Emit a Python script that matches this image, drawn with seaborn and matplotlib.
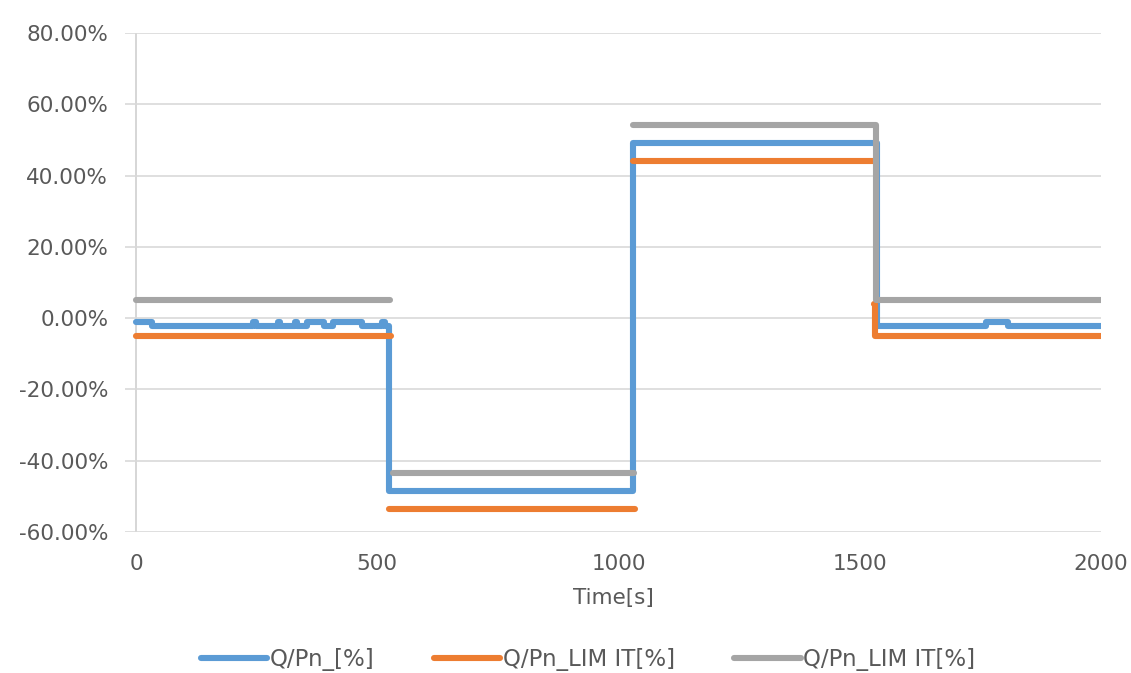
import numpy as np
import seaborn as sns
import matplotlib.pyplot as plt
from matplotlib.ticker import FuncFormatter

# ---------------------------------------- Data ---------------------------------------- #
# time [s] / value [%], NaN separates unconnected pieces
blue_t = [0, 32, 242, 248, 294, 299, 329, 334, 355, 390, 408, 468, 510, 516, 525, 1030,
          1535, 1762, 1808, 2000]
blue_v = [-1, -2.2, -1, -2.2, -1, -2.2, -1, -2.2, -1, -2.2, -1, -2.2, -1, -2.2, -48.5, 49,
          -2.3, -1, -2.3, -2.3]

orange_t = [0, 528, np.nan, 524, 1035, np.nan, 1029, 1530, np.nan, 1530, 1532, 2000]
orange_v = [-5, -5, np.nan, -53.5, -53.5, np.nan, 44, 44, np.nan, 4, -5, -5]

gray_t = [0, 526, np.nan, 532, 1031, np.nan, 1029, 1533, 2000]
gray_v = [5, 5, np.nan, -43.5, -43.5, np.nan, 54.3, 5, 5]

names = ["Q/Pn_[%]", "Q/Pn_LIM IT[%]", "Q/Pn_LIM IT[%]"]
colors = ["#5B9BD5", "#ED7D31", "#A5A5A5"]

x_ticks = [0, 500, 1000, 1500, 2000]
y_ticks = [-60, -40, -20, 0, 20, 40, 60, 80]

text_color = "#595959"


def pieces(t, v):
    # split a series at NaN gaps
    out, cur_t, cur_v = [], [], []
    for a, b in zip(t, v):
        if np.isnan(a):
            out.append((cur_t, cur_v))
            cur_t, cur_v = [], []
        else:
            cur_t.append(a)
            cur_v.append(b)
    out.append((cur_t, cur_v))
    return out


sns.set_style("white")
plt.rcParams['font.family'] = ['DejaVu Sans']

fig = plt.figure(figsize=(11.31, 6.73), dpi=100)
ax = fig.add_axes([0.1105, 0.2095, 0.863, 0.7415])

series = [(blue_t, blue_v), (orange_t, orange_v), (gray_t, gray_v)]
for (t, v), name, c in zip(series, names, colors):
    for i, (pt, pv) in enumerate(pieces(t, v)):
        sns.lineplot(x=pt, y=pv, ax=ax, color=c, linewidth=4.4, drawstyle="steps-post",
                     estimator=None, sort=False, label=name if i == 0 else "_nolegend_")

ax.set_xlim(-23, 2000)
ax.set_ylim(-60, 80)
ax.set_xticks(x_ticks)
ax.set_yticks(y_ticks)
ax.yaxis.set_major_formatter(FuncFormatter(lambda y, _: "{:.2f}%".format(y)))
ax.tick_params(axis="both", length=0, labelsize=15.5, labelcolor=text_color)
ax.tick_params(axis="y", pad=12)
ax.tick_params(axis="x", pad=16)

ax.grid(True, which="major", axis="y", color="#D9D9D9", linewidth=1.2)
ax.grid(False, axis="x")
ax.set_axisbelow(True)
for s in ax.spines.values():
    s.set_visible(False)
ax.axvline(0, color="#D0D0D0", linewidth=1.2, zorder=0.5)

ax.set_xlabel("Time[s]", fontsize=15.5, color=text_color, labelpad=10)
ax.set_ylabel(None)

ax.legend(loc="center", bbox_to_anchor=(0.52, 0.02), bbox_transform=fig.transFigure,
          ncol=3, frameon=False, fontsize=16.5, handlelength=2.9, columnspacing=2.6,
          handletextpad=0.1, labelcolor=text_color)

plt.savefig("out.png", dpi=100)
